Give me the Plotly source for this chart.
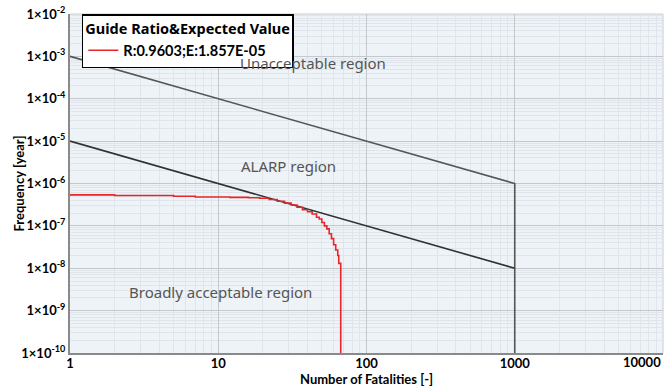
import math
import plotly.graph_objects as go

# Criterion lines
upper_n = [1, 1000, 1000]
upper_f = [1e-3, 1e-6, 1e-10]
lower_n = [1, 1000]
lower_f = [1e-5, 1e-8]

# F-N curve (step)
fn_n = [1, 2, 5, 7, 12, 16, 19, 22, 25, 28, 31, 34, 37, 40, 43, 46, 48, 50, 52,
        54, 56, 58, 60, 62, 64, 65, 67]
fn_f = [5.4e-7, 5.2e-7, 5.0e-7, 4.8e-7, 4.7e-7, 4.6e-7, 4.5e-7, 4.2e-7, 3.8e-7,
        3.45e-7, 3.1e-7, 2.75e-7, 2.4e-7, 2.15e-7, 1.9e-7, 1.6e-7, 1.45e-7,
        1.2e-7, 1.0e-7, 8.5e-8, 6.5e-8, 5.0e-8, 3.6e-8, 2.7e-8, 2.0e-8, 1.3e-8,
        1e-10]

y_tickvals = [1e-10, 1e-9, 1e-8, 1e-7, 1e-6, 1e-5, 1e-4, 1e-3, 1e-2]
y_ticktext = ["1×10<sup>-10</sup>", "1×10<sup>-9</sup>", "1×10<sup>-8</sup>",
              "1×10<sup>-7</sup>", "1×10<sup>-6</sup>", "1×10<sup>-5</sup>",
              "1×10<sup>-4</sup>", "1×10<sup>-3</sup>", "1×10<sup>-2</sup>"]
x_tickvals = [1, 10, 100, 1000, 10000]
x_ticktext = ["1", "10", "100", "1000", "10000"]

legend_title = "Guide Ratio&Expected Value"
legend_item = "R:0.9603;E:1.857E-05"

regions = [("Unacceptable region", 43.5, 7.1e-4),
           ("ALARP region", 30, 2.6e-6),
           ("Broadly acceptable region", 10.3, 2.75e-9)]

FONT = "Noto Sans"
TFONT = "Lato"

x_minor = [m * 10 ** k for k in range(0, 4) for m in range(2, 10)]
y_minor = [m * 10.0 ** k for k in range(-10, -2) for m in range(2, 10)]

fig = go.Figure()
fig.add_trace(go.Scatter(x=upper_n, y=upper_f, mode="lines",
                         line=dict(color="#555555", width=1.6), showlegend=False))
fig.add_trace(go.Scatter(x=lower_n, y=lower_f, mode="lines",
                         line=dict(color="#303030", width=1.6), showlegend=False))
fig.add_trace(go.Scatter(x=fn_n, y=fn_f, mode="lines", line_shape="hv",
                         line=dict(color="#e8262a", width=1.6),
                         name="<b>" + legend_item + "</b>"))

for txt, xv, yv in regions:
    fig.add_annotation(x=math.log10(xv), y=math.log10(yv), xref="x", yref="y",
                       text=txt, showarrow=False,
                       font=dict(family=FONT, size=15, color="#555555"))

# last x tick label (right-aligned at plot edge)
fig.add_annotation(x=1, y=0, xref="paper", yref="paper", xanchor="right", yanchor="top",
                   yshift=1, text="<b>%s</b>" % x_ticktext[-1], showarrow=False,
                   font=dict(family=TFONT, size=13, color="black"))
# axis titles
fig.add_annotation(x=0.5, y=0, xref="paper", yref="paper", xanchor="center", yanchor="top",
                   yshift=-16, text="<b>Number of Fatalities [-]</b>", showarrow=False,
                   font=dict(family=TFONT, size=13, color="black"))
fig.add_annotation(x=0, y=0.5, xref="paper", yref="paper", xanchor="center", yanchor="middle",
                   xshift=-52, textangle=-90, text="<b>Frequency [year]</b>", showarrow=False,
                   font=dict(family=TFONT, size=13, color="black"))

fig.update_layout(
    width=670, height=387,
    margin=dict(l=70, r=7, t=14, b=34, autoexpand=False),
    paper_bgcolor="white",
    plot_bgcolor="#eef3f7",
    font=dict(family=FONT, color="black"),
    legend=dict(
        x=0.02, y=1.0, xanchor="left", yanchor="top",
        bgcolor="white", bordercolor="black", borderwidth=1.5,
        title=dict(text="<b>" + legend_title + "</b>", font=dict(size=14.5, family=FONT)),
        font=dict(size=14.5, family=TFONT, color="black"),
        itemwidth=30, tracegroupgap=0,
    ),
)

fig.update_xaxes(
    type="log", range=[0, 4], automargin=False,
    tickvals=x_tickvals[:-1], ticktext=["<b>%s</b>" % t for t in x_ticktext[:-1]],
    tickfont=dict(size=13, family=TFONT), ticks="", ticklabelstandoff=-3,
    showgrid=True, gridcolor="#c4c8cc", gridwidth=1,
    minor=dict(tickvals=x_minor, showgrid=True, gridcolor="#dfe5ea", gridwidth=1, ticks=""),
    showline=True, linecolor="#8a8a8a", linewidth=2, zeroline=False,
)
fig.update_yaxes(
    type="log", range=[-10, -2], automargin=False,
    tickvals=y_tickvals, ticktext=["<b>%s</b>" % t for t in y_ticktext],
    tickfont=dict(size=13, family=TFONT), ticks="", ticklabeloverflow="allow",
    showgrid=True, gridcolor="#c4c8cc", gridwidth=1,
    minor=dict(tickvals=y_minor, showgrid=True, gridcolor="#dfe5ea", gridwidth=1, ticks=""),
    showline=True, linecolor="#8a8a8a", linewidth=2, zeroline=False,
)
fig.add_shape(type="line", xref="paper", yref="paper", x0=0, y0=1, x1=1, y1=1,
              line=dict(color="#c8cdd2", width=1), layer="below")
fig.add_shape(type="line", xref="paper", yref="paper", x0=1, y0=0, x1=1, y1=1,
              line=dict(color="#c8cdd2", width=1), layer="below")

fig.write_html("out.html", config={"displayModeBar": False},
               post_script="document.body.style.margin='0';document.body.style.padding='0';")
